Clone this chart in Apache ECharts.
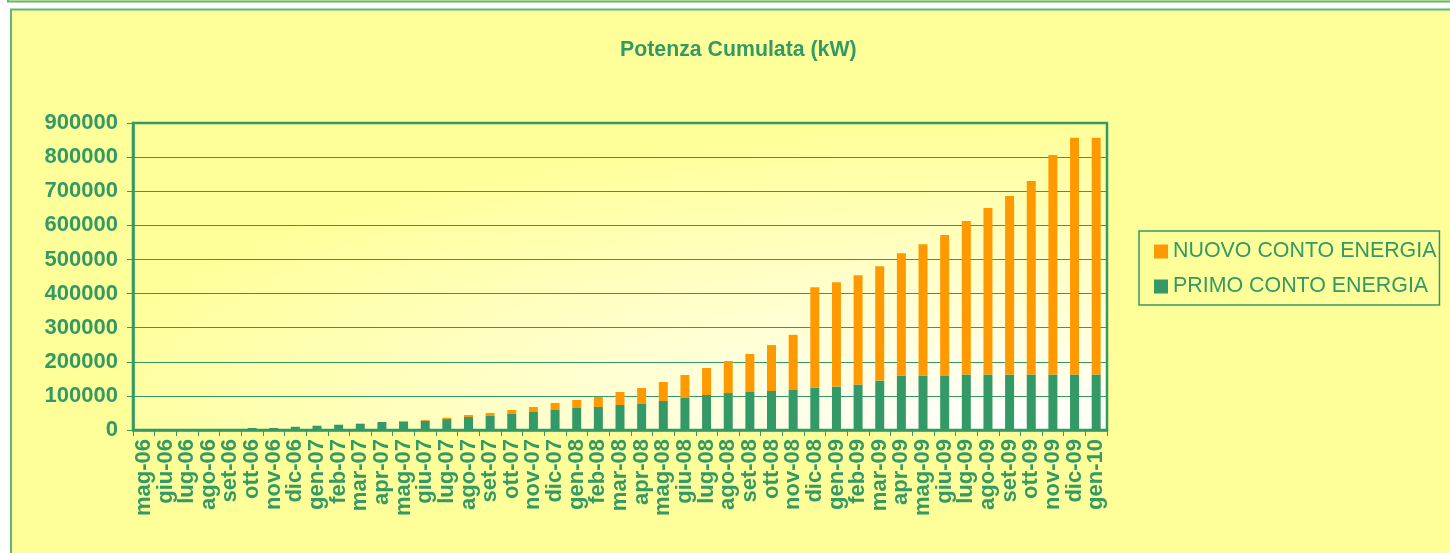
<!DOCTYPE html>
<html>
<head>
<meta charset="utf-8">
<script src="https://cdn.jsdelivr.net/npm/echarts@6/dist/echarts.min.js"></script>
<style>
  html, body { margin: 0; padding: 0; background: #ffffff; }
  #container { width: 1450px; height: 553px; }
</style>
</head>
<body>
<div id="container"></div>
<script>
var months = ['mag-06','giu-06','lug-06','ago-06','set-06','ott-06','nov-06','dic-06',
  'gen-07','feb-07','mar-07','apr-07','mag-07','giu-07','lug-07','ago-07','set-07','ott-07','nov-07','dic-07',
  'gen-08','feb-08','mar-08','apr-08','mag-08','giu-08','lug-08','ago-08','set-08','ott-08','nov-08','dic-08',
  'gen-09','feb-09','mar-09','apr-09','mag-09','giu-09','lug-09','ago-09','set-09','ott-09','nov-09','dic-09',
  'gen-10'];

// primo conto energia (kW)
var primo = [200, 400, 700, 1200, 2800, 6000, 6000, 9500,
  12500, 15500, 18500, 23500, 24500, 27000, 32000, 38000, 41000, 47000, 52800, 58600,
  64500, 67400, 73300, 76200, 85000, 93800, 102600, 108400, 111400, 114300, 117200, 124500,
  127400, 133300, 145000, 159700, 159700, 160000, 162700, 162700, 162700, 162700, 162700, 162700,
  162700];

// nuovo conto energia (kW)
var nuovo = [0, 0, 0, 0, 0, 0, 0, 0,
  0, 0, 0, 0, 2000, 2500, 4000, 6000, 9000, 11600, 14600, 20500,
  23500, 29300, 38100, 46900, 55700, 67400, 79100, 93800, 111400, 134800, 161800, 294000,
  305800, 320400, 335200, 358700, 385200, 411300, 449800, 488000, 523300, 567400, 643800, 693800,
  693800];

var green = '#339966';
var orange = '#ff9900';
var font = 'Liberation Sans, Arial, sans-serif';

var dom = document.getElementById('container');
var myChart = echarts.init(dom);

var option = {
  animation: false,
  backgroundColor: '#ffffff',
  graphic: [
    { type: 'rect', z: -20, shape: { x: 8, y: -50, width: 1460, height: 51.5 },
      style: { fill: '#ffff99', stroke: '#5fb67c', lineWidth: 2 } },
    { type: 'rect', z: -20, shape: { x: 11, y: 9.5, width: 1460, height: 600 },
      style: { fill: '#ffff99', stroke: '#5fb67c', lineWidth: 2 } },
    // plot area fill, elliptical gradient via scaled square
    { type: 'rect', z: -10, x: 133, y: 123, scaleX: 974 / 307,
      shape: { x: 0, y: 0, width: 307, height: 307 },
      style: { fill: new echarts.graphic.RadialGradient(0.9, 1.0, 1.0, [
        { offset: 0, color: '#ffffff' },
        { offset: 1, color: '#ffff99' }
      ]) } }
  ],
  title: {
    text: 'Potenza Cumulata (kW)',
    left: 615,
    top: 35,
    textStyle: { color: green, fontFamily: font, fontSize: 21.3, fontWeight: 'bold' }
  },
  legend: {
    data: ['NUOVO CONTO ENERGIA', 'PRIMO CONTO ENERGIA'],
    orient: 'vertical',
    left: 1139,
    top: 231,
    padding: [10, 3, 8, 15],
    itemGap: 14,
    itemWidth: 14,
    itemHeight: 14,
    icon: 'rect',
    borderColor: green,
    borderWidth: 1.5,
    textStyle: { color: green, fontFamily: font, fontSize: 21.4 }
  },
  grid: {
    left: 133,
    right: 343,
    top: 123,
    bottom: 123,
    show: true,
    backgroundColor: 'transparent',
    borderColor: green,
    borderWidth: 2.5
  },
  xAxis: {
    type: 'category',
    data: months,
    axisLine: { lineStyle: { color: green, width: 2.5 } },
    axisTick: { show: true, interval: 0, length: 6, lineStyle: { color: green } },
    axisLabel: {
      interval: 0, rotate: 90, margin: 9,
      color: green, fontFamily: font, fontSize: 22, fontWeight: 'bold'
    }
  },
  yAxis: {
    type: 'value',
    min: 0,
    max: 900000,
    interval: 100000,
    axisLine: { show: true, lineStyle: { color: green, width: 2.5 } },
    axisTick: { show: true, length: 6, lineStyle: { color: green } },
    splitLine: { lineStyle: { color: green, width: 1 } },
    axisLabel: {
      margin: 15,
      formatter: function (v) { return String(v); },
      color: green, fontFamily: font, fontSize: 22, fontWeight: 'bold'
    }
  },
  series: [
    {
      name: 'PRIMO CONTO ENERGIA',
      type: 'bar',
      stack: 'tot',
      barWidth: 9,
      data: primo,
      itemStyle: { color: green }
    },
    {
      name: 'NUOVO CONTO ENERGIA',
      type: 'bar',
      stack: 'tot',
      barWidth: 9,
      data: nuovo,
      itemStyle: { color: orange }
    }
  ]
};

myChart.setOption(option, true);
</script>
</body>
</html>
